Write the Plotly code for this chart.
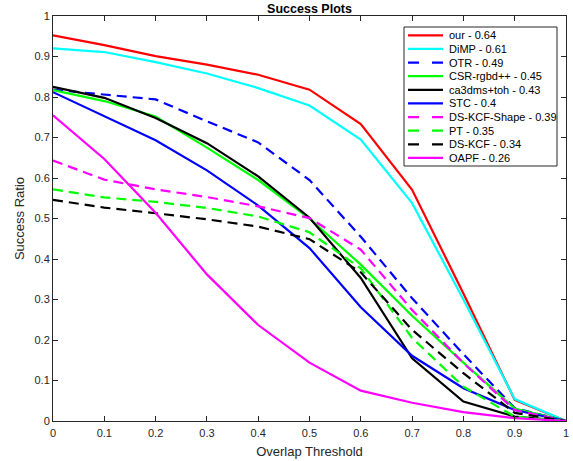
import plotly.graph_objects as go

# ---------------- data ----------------
thresholds = [0.0, 0.1, 0.2, 0.3, 0.4, 0.5, 0.6, 0.7, 0.8, 0.9, 1.0]

our          = [0.952, 0.928, 0.901, 0.880, 0.855, 0.818, 0.733, 0.571, 0.315, 0.052, 0.0]
dimp         = [0.920, 0.911, 0.886, 0.858, 0.822, 0.779, 0.695, 0.538, 0.300, 0.054, 0.0]
otr          = [0.818, 0.806, 0.794, 0.740, 0.688, 0.595, 0.455, 0.303, 0.165, 0.032, 0.0]
csr_rgbd     = [0.817, 0.790, 0.752, 0.675, 0.595, 0.500, 0.386, 0.260, 0.144, 0.031, 0.0]
ca3dms_toh   = [0.825, 0.798, 0.748, 0.686, 0.604, 0.502, 0.353, 0.155, 0.048, 0.011, 0.0]
stc          = [0.812, 0.752, 0.693, 0.619, 0.532, 0.427, 0.281, 0.161, 0.081, 0.027, 0.0]
ds_kcf_shape = [0.643, 0.596, 0.572, 0.553, 0.530, 0.501, 0.423, 0.274, 0.143, 0.027, 0.0]
pt           = [0.572, 0.552, 0.541, 0.526, 0.505, 0.466, 0.377, 0.205, 0.085, 0.011, 0.0]
ds_kcf       = [0.546, 0.527, 0.513, 0.498, 0.480, 0.449, 0.367, 0.225, 0.118, 0.020, 0.0]
oapf         = [0.755, 0.647, 0.514, 0.362, 0.237, 0.144, 0.075, 0.045, 0.022, 0.007, 0.0]

names = ["our - 0.64", "DiMP - 0.61", "OTR - 0.49", "CSR-rgbd++ - 0.45",
         "ca3dms+toh - 0.43", "STC - 0.4", "DS-KCF-Shape - 0.39", "PT - 0.35",
         "DS-KCF - 0.34", "OAPF - 0.26"]
series = [our, dimp, otr, csr_rgbd, ca3dms_toh, stc, ds_kcf_shape, pt, ds_kcf, oapf]
colors = ["#FF0000", "#00FFFF", "#0000FF", "#00FF00", "#000000",
          "#0000FF", "#FF00FF", "#00FF00", "#000000", "#FF00FF"]
dashed = [False, False, True, False, False, False, True, True, True, False]

x_ticks = [0, 0.1, 0.2, 0.3, 0.4, 0.5, 0.6, 0.7, 0.8, 0.9, 1]
x_ticklabels = ["0", "0.1", "0.2", "0.3", "0.4", "0.5", "0.6", "0.7", "0.8", "0.9", "1"]
y_ticks = x_ticks
y_ticklabels = x_ticklabels

# ---------------- figure ----------------
W, H = 573, 461
ML, MR, MT, MB = 53, 7, 16, 40
PW, PH = W - ML - MR, H - MT - MB
FONT = "Liberation Sans, Arial, Helvetica, sans-serif"
AX = "#262626"

fig = go.Figure()
for name, ys, col, dsh in zip(names, series, colors, dashed):
    fig.add_trace(go.Scatter(
        x=thresholds, y=ys, mode="lines", name=name, showlegend=False,
        line=dict(color=col, width=2.2, dash="10px,6px" if dsh else "solid"),
    ))

# ---- legend box (drawn in paper coordinates, MATLAB style) ----
def px2x(px):
    return (px - ML) / PW

def py2y(py):
    return (H - MB - py) / PH

shapes = []
annotations = []
lx0, lx1, ly0, ly1 = 404, 557, 27, 166
shapes.append(dict(type="rect", xref="paper", yref="paper",
                   x0=px2x(lx0), x1=px2x(lx1), y0=py2y(ly1), y1=py2y(ly0),
                   line=dict(color=AX, width=1), fillcolor="white", layer="above"))
row0, rowh = 35.3, 13.63
for i, (name, col, dsh) in enumerate(zip(names, colors, dashed)):
    yy = py2y(row0 + i * rowh)
    shapes.append(dict(type="line", xref="paper", yref="paper",
                       x0=px2x(408), x1=px2x(443), y0=yy, y1=yy, layer="above",
                       line=dict(color=col, width=2.2,
                                 dash="11px,13px" if dsh else "solid")))
    annotations.append(dict(xref="paper", yref="paper", x=px2x(447), y=yy,
                            xanchor="left", yanchor="middle", showarrow=False,
                            text=name, font=dict(family=FONT, size=11, color="#000000")))

axis_common = dict(
    showline=True, linecolor=AX, linewidth=1, mirror="ticks",
    ticks="inside", ticklen=5, tickwidth=1, tickcolor=AX,
    showgrid=False, zeroline=False, automargin=False,
    tickfont=dict(family=FONT, size=11, color=AX),
)

fig.update_layout(
    width=W, height=H,
    margin=dict(l=ML, r=MR, t=MT, b=MB, pad=0, autoexpand=False),
    paper_bgcolor="white", plot_bgcolor="white",
    showlegend=False,
    title=dict(text="<b>Success Plots</b>", x=(ML + PW / 2) / W, xanchor="center",
               y=1 - 8.5 / H, yanchor="middle", yref="container",
               font=dict(family=FONT, size=12.5, color="#000000")),
    xaxis=dict(range=[0, 1], tickvals=x_ticks, ticktext=x_ticklabels,
               ticklabelstandoff=2,
               title=dict(text="Overlap Threshold", standoff=8,
                          font=dict(family=FONT, size=13, color=AX)),
               **axis_common),
    yaxis=dict(range=[0, 1], tickvals=y_ticks, ticktext=y_ticklabels,
               title=dict(text="Success Ratio", standoff=6,
                          font=dict(family=FONT, size=13, color=AX)),
               **axis_common),
    shapes=shapes,
    annotations=annotations,
)

fig.write_html("out.html",
               config={"displayModeBar": False},
               post_script="document.body.style.margin='0';document.body.style.overflow='hidden';")
